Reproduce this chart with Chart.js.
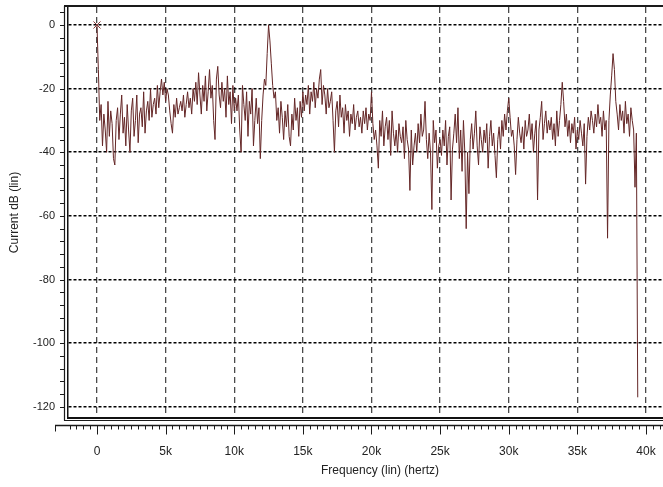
<!DOCTYPE html>
<html>
<head>
<meta charset="utf-8">
<script src="https://cdn.jsdelivr.net/npm/chart.js@4/dist/chart.umd.min.js"></script>
<style>
  html, body { margin: 0; padding: 0; background: #fff; }
  #wrap { width: 663px; height: 487px; }
</style>
</head>
<body>
<div id="wrap"><canvas id="spectrum" width="663" height="487"></canvas></div>
<script>
// Spectrum samples, one every 100 Hz starting at 0 Hz
const freqStartHz = 0;
const freqStepHz = 100;
const currentDb = [
  0, -14, -30, -25, -38, -28, -33, -40, -24, -35,      // 0k
  -27, -31, -42, -44, -30, -26, -36, -28, -22, -34,    // 1k
  -29, -38, -25, -33, -40, -27, -23, -35, -30, -22,    // 2k
  -37, -28, -26, -32, -21, -34, -27, -24, -30, -20,    // 3k
  -29, -25, -23, -28, -19, -26, -21, -17, -22, -18,    // 4k
  -24, -20, -22, -27, -31, -34, -25, -29, -23, -28,    // 5k
  -26, -24, -27, -22, -29, -25, -21, -26, -23, -28,    // 6k
  -20, -24, -18, -25, -15, -22, -28, -19, -24, -16,    // 7k
  -27, -21, -14, -23, -19, -30, -36, -17, -13, -22,    // 8k
  -26, -18, -24, -20, -29, -16, -25, -21, -31, -19,    // 9k
  -27, -23, -27, -22, -33, -40, -19, -25, -30, -21,    // 10k
  -35, -24, -28, -20, -38, -30, -23, -31, -26, -42,    // 11k
  -30, -22, -17, -19, -9, 0, -5, -12, -19, -23,        // 12k
  -21, -30, -26, -34, -24, -29, -36, -27, -32, -25,    // 13k
  -35, -38, -28, -33, -23, -30, -26, -35, -24, -29,    // 14k
  -21, -27, -22, -25, -19, -28, -21, -24, -18, -26,    // 15k
  -20, -23, -17, -14, -25, -19, -22, -28, -20, -26,    // 16k
  -24, -21, -30, -40, -27, -24, -32, -22, -29, -26,    // 17k
  -34, -25, -30, -27, -35, -28, -31, -25, -33, -29,    // 18k
  -27, -32, -29, -34, -27, -31, -26, -33, -28, -30,    // 19k
  -21, -31, -36, -33, -38, -45, -30, -35, -27, -38,    // 20k
  -32, -29, -36, -30, -41, -27, -34, -38, -33, -40,    // 21k
  -31, -35, -37, -32, -42, -30, -36, -39, -52, -33,    // 22k
  -44, -38, -34, -40, -31, -37, -28, -35, -33, -24,    // 23k
  -36, -42, -34, -40, -58, -30, -37, -33, -45, -38,    // 24k
  -36, -41, -33, -38, -30, -44, -35, -32, -55, -39,    // 25k
  -34, -28, -37, -26, -42, -33, -46, -30, -40, -64,    // 26k
  -40, -53, -36, -31, -39, -34, -27, -38, -44, -32,    // 27k
  -36, -40, -33, -37, -31, -45, -35, -30, -38, -34,    // 28k
  -41, -48, -36, -32, -39, -30, -35, -28, -33, -27,    // 29k
  -23, -29, -35, -33, -38, -47, -36, -29, -34, -37,    // 30k
  -32, -39, -30, -35, -33, -28, -36, -31, -40, -34,    // 31k
  -30, -55, -33, -29, -24, -36, -31, -27, -34, -30,    // 32k
  -33, -29, -36, -31, -38, -27, -35, -30, -25, -18,    // 33k
  -24, -32, -28, -35, -30, -37, -31, -34, -29, -39,    // 34k
  -33, -36, -30, -34, -38, -31, -50, -35, -29, -33,    // 35k
  -27, -30, -34, -28, -32, -25, -31, -29, -35, -27,    // 36k
  -33, -30, -67, -30, -22, -16, -9, -14, -24, -28,     // 37k
  -33, -25, -30, -27, -34, -24, -31, -28, -35, -26,    // 38k
  -30, -33, -51, -34, -117                             // 39k
];

// Axis ticks and labels
const xTickValues = [0, 5000, 10000, 15000, 20000, 25000, 30000, 35000, 40000];
const xTickLabels = ['0', '5k', '10k', '15k', '20k', '25k', '30k', '35k', '40k'];
const yTickValues = [-120, -100, -80, -60, -40, -20, 0];
const yTickLabels = ['-120', '-100', '-80', '-60', '-40', '-20', '0'];
const yMinorStep = 4;
const rulerStepHz = 500;

const X_MIN = -2113, X_MAX = 41240;
const Y_MIN = -123.5, Y_MAX = 5.65;
const FONT = 'Liberation Sans, Arial, sans-serif';
const TRACE = '#642626';
const CLEAR = 'rgba(0,0,0,0)';

const points = currentDb.map((db, i) => ({ x: freqStartHz + i * freqStepHz, y: db }));

function noPad(s) {
  s.paddingLeft = 0; s.paddingRight = 0; s.paddingTop = 0; s.paddingBottom = 0;
}

// frame lines, y tick marks, ruler strip and x title
const framePlugin = {
  id: 'frame',
  afterDraw(chart) {
    const { ctx, chartArea: a, scales } = chart;
    const xs = scales.x, ys = scales.y;
    ctx.save();
    ctx.strokeStyle = '#1a1a1a';
    // top
    ctx.lineWidth = 2;
    ctx.beginPath();
    ctx.moveTo(a.left - 4, a.top - 1);
    ctx.lineTo(a.right, a.top - 1);
    ctx.stroke();
    // outer left line
    ctx.lineWidth = 1.2;
    ctx.beginPath();
    ctx.moveTo(a.left - 3.5, a.top - 1);
    ctx.lineTo(a.left - 3.5, a.bottom + 2.5);
    ctx.stroke();
    // second bottom line
    ctx.beginPath();
    ctx.moveTo(a.left - 4, a.bottom + 2.5);
    ctx.lineTo(a.right, a.bottom + 2.5);
    ctx.stroke();
    // y tick marks (major and minor)
    ctx.lineWidth = 1;
    ctx.beginPath();
    for (let v = yTickValues[0]; v <= Y_MAX; v += yMinorStep) {
      const py = Math.round(ys.getPixelForValue(v)) + 0.5;
      ctx.moveTo(a.left - 8, py);
      ctx.lineTo(a.left - 3.5, py);
    }
    ctx.stroke();
    // ruler
    const ry = a.bottom + 7.5;
    ctx.lineWidth = 1.5;
    ctx.beginPath();
    ctx.moveTo(a.left - 13, ry);
    ctx.lineTo(a.right, ry);
    ctx.stroke();
    ctx.lineWidth = 1;
    ctx.beginPath();
    const left = a.left - 13;
    ctx.moveTo(left + 0.5, ry);
    ctx.lineTo(left + 0.5, ry + 6);
    for (let v = Math.ceil(X_MIN / rulerStepHz) * rulerStepHz; v <= X_MAX; v += rulerStepHz) {
      const px = Math.round(xs.getPixelForValue(v)) + 0.5;
      const len = xTickValues.includes(v) ? 9 : 4;
      ctx.moveTo(px, ry);
      ctx.lineTo(px, ry + len);
    }
    ctx.stroke();
    // x title
    ctx.fillStyle = '#222';
    ctx.font = '12px ' + FONT;
    ctx.textAlign = 'center';
    ctx.textBaseline = 'middle';
    ctx.fillText('Frequency (lin) (hertz)', (xs.getPixelForValue(0) + a.right) / 2, 471);
    ctx.restore();
  }
};

new Chart(document.getElementById('spectrum'), {
  type: 'line',
  data: {
    datasets: [{
      data: points,
      borderColor: TRACE,
      borderWidth: 1,
      tension: 0,
      fill: false,
      pointRadius: ctx => (ctx.dataIndex === 0 ? 5 : 0),
      pointStyle: 'crossRot',
      pointBorderColor: '#8a3a3a',
      pointBorderWidth: 1
    }]
  },
  options: {
    responsive: false,
    animation: false,
    layout: { autoPadding: false, padding: { top: 7, right: 0, left: 0, bottom: 0 } },
    plugins: { legend: { display: false }, tooltip: { enabled: false } },
    scales: {
      x: {
        type: 'linear',
        min: X_MIN,
        max: X_MAX,
        afterBuildTicks: s => { s.ticks = xTickValues.map(v => ({ value: v })); },
        afterFit: s => { s.height = 69; noPad(s); },
        grid: { color: '#4a4a4a', lineWidth: 1.3, drawTicks: true, tickLength: 25, tickColor: CLEAR },
        border: { display: true, color: '#111', width: 2, dash: [6, 4] },
        ticks: {
          autoSkip: false,
          maxRotation: 0,
          padding: 1,
          color: '#222',
          font: { family: FONT, size: 12 },
          callback: (v, i) => xTickLabels[i]
        }
      },
      y: {
        min: Y_MIN,
        max: Y_MAX,
        afterBuildTicks: s => { s.ticks = yTickValues.map(v => ({ value: v })); },
        afterFit: s => { s.width = 68; noPad(s); },
        grid: { color: '#000', lineWidth: 1.6, drawTicks: true, tickLength: 12, tickColor: CLEAR },
        border: { display: true, color: '#111', width: 1.5, dash: [3, 2] },
        ticks: {
          autoSkip: false,
          padding: 1,
          color: '#222',
          font: { family: FONT, size: 11 },
          callback: (v, i) => yTickLabels[i]
        },
        title: {
          display: true,
          text: 'Current dB (lin)',
          color: '#222',
          font: { family: FONT, size: 12 },
          padding: { top: 7, bottom: 0 }
        }
      }
    }
  },
  plugins: [framePlugin]
});
</script>
</body>
</html>
